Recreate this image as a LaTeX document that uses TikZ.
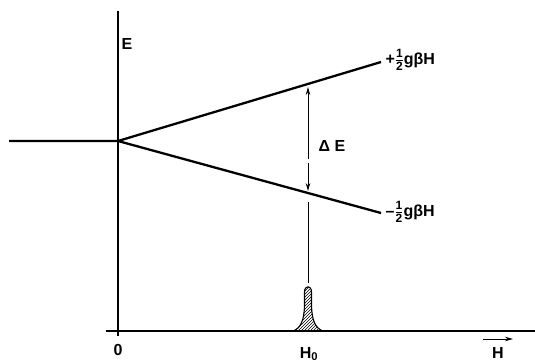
\documentclass[tikz,border=0pt]{standalone}
\usepackage{fontspec}
\usepackage{amsmath}
\setmainfont{Liberation Sans}
\usetikzlibrary{arrows.meta,patterns}
\newcommand\fracdigit[1]{\text{\fontsize{12}{12}\selectfont\bfseries #1}}
\newcommand\half{$\frac{\fracdigit{1}}{\fracdigit{2}}$}

\begin{document}
\begin{tikzpicture}[x=1pt,y=-1pt,
    level/.style={line width=2.3pt},
    axis/.style={line width=1.6pt},
    lbl/.style={font=\fontsize{16}{18}\selectfont\bfseries},
    thinarrow/.style={line width=0.9pt,-{Stealth[length=8pt,width=4.5pt]}}]
  \useasboundingbox (0,0) rectangle (535,362);
  \def\xres{308}

  % axes
  \coordinate (top) at (118,11);
  \coordinate (bot) at (118,336);
  \coordinate (hleft) at (106,331);
  \coordinate (hright) at (535,331);
  \draw[axis] (top) -- (bot);
  \draw[axis] (hleft) -- (hright);

  % levels
  \coordinate (O) at (118,141);
  \coordinate (far) at (9,141);
  \coordinate (up) at (381,62);
  \coordinate (lo) at (381,213);
  \draw[level] (far) -- (O) -- (up);
  \draw[level] (O) -- (lo);

  % splitting
  \coordinate (mid1) at (\xres,159);
  \coordinate (mid2) at (\xres,163);
  \coordinate (tipup) at (\xres,87);
  \coordinate (tiplo) at (\xres,191);
  \draw[thinarrow] (mid1) -- (tipup);
  \draw[thinarrow] (mid2) -- (tiplo);

  % resonance line
  \coordinate (res1) at (\xres,202);
  \coordinate (res2) at (\xres,283);
  \draw[line width=0.9pt] (res1) -- (res2);
  \draw[line width=1.1pt, pattern=north east lines]
    (293,331) .. controls (301,328) and (304,320) .. (304.5,306) -- (304.5,292)
    .. controls (304.5,285) and (311.5,285) .. (311.5,292) -- (311.5,306)
    .. controls (312,320) and (315,328) .. (323,331) -- cycle;

  % labels
  \node[lbl] (Elbl) at (127,44) {E};
  \node[lbl,anchor=west] (plus) at (382,60) {+\half gβH};
  \node[lbl,anchor=west] (minus) at (382,212) {–\half gβH};
  \node[lbl] (dE) at (332,146) {Δ E};
  \node[lbl] (zero) at (118,350) {0};
  \node[lbl] (H0) at (309,354) {H$_\text{\bfseries 0}$};
  \node[lbl] (Hax) at (498,353) {H};
  \coordinate (harr1) at (483,339);
  \coordinate (harr2) at (513,339);
  \draw[thinarrow] (harr1) -- (harr2);
\end{tikzpicture}
\end{document}
